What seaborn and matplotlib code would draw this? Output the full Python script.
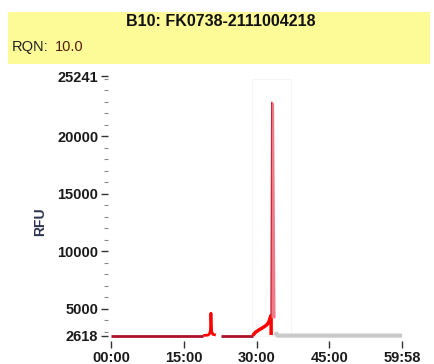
import matplotlib
matplotlib.use("Agg")
import matplotlib.pyplot as plt
import seaborn as sns
import pandas as pd
from matplotlib.patches import Rectangle
from matplotlib.ticker import FixedLocator

# ---- data (minutes, RFU) ----
base1_t = [0.0, 19.0]
base1_rfu = [2660, 2660]
peak1_t = [19.0, 20.0, 20.3, 20.5, 20.6, 20.75, 21.0, 21.6]
peak1_rfu = [2660, 2700, 2800, 3100, 4600, 3000, 2760, 2700]
base2_t = [22.6, 29.2]
base2_rfu = [2660, 2660]
rise_t = [29.2, 29.8, 30.5, 31.3, 32.0, 32.5, 32.8, 33.0, 33.0]
rise_rfu = [2660, 2950, 3150, 3350, 3550, 3800, 4200, 4400, 2700]
peak2_t = [33.0, 33.15, 33.5, 33.8]
peak2_rfu = [4400, 23000, 22900, 4400]
tail_t = [33.8, 34.1, 34.3, 34.6, 59.97]
tail_rfu = [2650, 2820, 2650, 2650, 2650]

title = "B10: FK0738-2111004218"
rqn_label = "RQN:"
rqn_value = "10.0"
xtick_vals = [0, 15, 30, 45, 59.97]
xtick_labels = ["00:00", "15:00", "30:00", "45:00", "59:58"]
ytick_vals = [2618, 5000, 10000, 15000, 20000, 25241]
ytick_labels = ["2618", "5000", "10000", "15000", "20000", "25241"]
y_minor = [v for v in range(3000, 26000, 1000) if v not in (5000, 10000, 15000, 20000)]

sns.set_theme(style="white")
plt.rcParams['font.family'] = ['Liberation Sans', 'DejaVu Sans']

fig = plt.figure(figsize=(4.34, 3.64), dpi=100)
fig.patch.set_facecolor("white")
ax = fig.add_axes([108/434, 1-341/364, (410-108)/434, (341-74)/364])

# header band
fig.patches.append(Rectangle((8/434, 1-64/364), 422/434, 52/364,
                             transform=fig.transFigure, facecolor="#fdfb98",
                             edgecolor="none", zorder=0))
fig.text(221/434, 1-22/364, title, ha="center", va="center",
         fontsize=11.5, fontweight="bold", color="#111111")
fig.text(12/434, 1-47/364, rqn_label, ha="left", va="center",
         fontsize=10.5, color="#222222")
fig.text(55/434, 1-47/364, rqn_value, ha="left", va="center",
         fontsize=10.5, color="#5a1a0a")

# faint highlight box around the main peak
ax.add_patch(Rectangle((29.0, 2618), 8.0, 22400, facecolor="none",
                       edgecolor="#f6f6f6", lw=0.8, zorder=0))

def seg(t, r, color, lw):
    df = pd.DataFrame({"t": t, "rfu": r})
    sns.lineplot(data=df, x="t", y="rfu", ax=ax, color=color, lw=lw,
                 sort=False, estimator=None, solid_capstyle="butt")

seg(tail_t, tail_rfu, "#c9c9c9", 3)
seg(base1_t, base1_rfu, "#b0102a", 2)
seg(base2_t, base2_rfu, "#b0102a", 2)
seg(peak1_t, peak1_rfu, "#ff0000", 2)
seg(rise_t, rise_rfu, "#ff0000", 2.5)
ax.fill_between(peak2_t, 4200, peak2_rfu, color="#f07a88", lw=0, zorder=3)
seg(peak2_t[:2], peak2_rfu[:2], "#c8283c", 1.2)

ax.set_xlim(-0.6, 61.6)
ax.set_ylim(2182, 25416)
ax.set_xlabel("")
ax.set_ylabel("")
for s in ax.spines.values():
    s.set_visible(False)

ax.set_xticks(xtick_vals)
ax.set_xticklabels(xtick_labels)
ax.set_yticks(ytick_vals)
ax.set_yticklabels(ytick_labels)
ax.yaxis.set_minor_locator(FixedLocator(y_minor))
ax.tick_params(axis="both", which="major", direction="out", length=5, width=1,
               color="#333333", labelsize=10.5, labelcolor="#1a1a1a", pad=2,
               left=True, bottom=True)
ax.tick_params(axis="y", which="minor", direction="out", length=3, width=0.8,
               color="#888888", left=True)
for lab in ax.get_xticklabels() + ax.get_yticklabels():
    lab.set_fontweight("bold")

fig.text(40/434, 1-222/364, "RFU", rotation=90, ha="center", va="center",
         fontsize=10, fontweight="bold", color="#2b3350")

fig.savefig("out.png", dpi=100)
